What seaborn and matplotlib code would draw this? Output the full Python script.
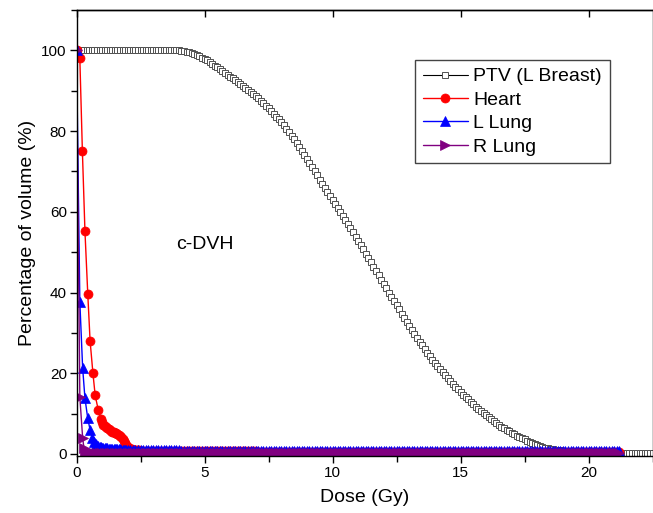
import numpy as np
import matplotlib
matplotlib.use("Agg")
import matplotlib.pyplot as plt
import seaborn as sns
from matplotlib.ticker import MultipleLocator

# ---------------- data ----------------
# PTV (L Breast): 0.1 Gy grid from 0 to 22.5 Gy
ptv_dose = np.arange(0, 226) / 10.0
ptv_vol = ([100.0] * 41 + [
    99.9, 99.8, 99.7, 99.5, 99.3, 99.1, 98.8, 98.5, 98.2, 97.9,
    97.5, 97.1, 96.7, 96.2, 95.8, 95.3, 94.9, 94.4, 94.0, 93.5,
    93.1, 92.6, 92.2, 91.7, 91.2, 90.7, 90.2, 89.7, 89.2, 88.7,
    88.1, 87.5, 86.9, 86.3, 85.7, 85.0, 84.3, 83.6, 82.9, 82.2,
    81.4, 80.6, 79.7, 78.9, 78.0, 77.0, 76.0, 75.0, 74.0, 73.0,
    72.0, 71.0, 70.0, 69.0, 68.0, 67.0, 66.0, 65.0, 64.0, 63.0,
    62.0, 61.0, 60.0, 59.0, 58.0, 57.0, 55.9, 54.9, 53.8, 52.8,
    51.7, 50.7, 49.6, 48.6, 47.5, 46.4, 45.4, 44.3, 43.2, 42.2,
    41.1, 40.0, 39.0, 37.9, 36.9, 35.8, 34.8, 33.7, 32.7, 31.7,
    30.7, 29.7, 28.8, 27.8, 26.9, 26.0, 25.1, 24.2, 23.4, 22.6,
    21.8, 21.0, 20.2, 19.5, 18.8, 18.1, 17.4, 16.7, 16.0, 15.4,
    14.7, 14.1, 13.5, 12.9, 12.3, 11.7, 11.2, 10.6, 10.1, 9.6,
    9.1, 8.6, 8.1, 7.7, 7.2, 6.8, 6.4, 6.0, 5.6, 5.2,
    4.9, 4.5, 4.2, 3.9, 3.6, 3.3, 3.0, 2.7, 2.5, 2.2,
    2.0, 1.8, 1.6, 1.4, 1.3, 1.2, 1.0, 0.9, 0.9, 0.8,
    0.7, 0.7, 0.6, 0.6, 0.5, 0.5, 0.5, 0.4, 0.4, 0.4,
] + [0.3] * 25)

# Heart
heart_dose = np.concatenate([
    [0.0, 0.13, 0.23, 0.33, 0.44, 0.53, 0.64, 0.73, 0.85],
    np.arange(95, 251, 5) / 100.0,
    np.arange(26, 213) / 10.0,
])
heart_vol = ([100.0, 98.0, 75.0, 55.2, 39.7, 28.1, 20.1, 14.5, 10.9] + [
    8.6, 7.8, 7.3, 7.0, 6.7, 6.4, 6.1, 5.9, 5.7, 5.5, 5.4, 5.2, 5.1, 4.9,
    4.7, 4.4, 4.1, 3.7, 3.2, 2.7, 2.2, 1.8, 1.5, 1.3, 1.2, 1.1, 1.0, 1.0,
    0.9, 0.9, 0.9, 0.85,
] + [0.8] * 15 + [0.7] * 30 + [0.6] * 50 + [0.5] * 92)

# L Lung
llung_dose = np.concatenate([
    [0.0, 0.13, 0.24, 0.33, 0.44, 0.53, 0.62],
    np.arange(70, 201, 5) / 100.0,
    np.arange(21, 213) / 10.0,
])
llung_vol = ([100.0, 37.7, 21.3, 13.8, 8.8, 6.0, 4.0] + [
    2.9, 2.4, 2.1, 1.9, 1.8, 1.7, 1.6, 1.55, 1.5, 1.45, 1.4, 1.35, 1.3,
    1.28, 1.25, 1.22, 1.2, 1.18, 1.16, 1.14, 1.12, 1.1, 1.08, 1.06, 1.04,
    1.02, 1.0,
] + [0.9] * 20 + [0.8] * 50 + [0.7] * 122)

# R Lung
rlung_dose = np.concatenate([
    [0.0, 0.13, 0.24, 0.29, 0.34, 0.39],
    np.arange(5, 213) / 10.0,
])
rlung_vol = [100.0, 14.1, 4.0, 1.5, 0.8, 0.5] + [0.3] * 30 + [0.2] * 178

x_major = [0, 5, 10, 15, 20]
y_major = [0, 20, 40, 60, 80, 100]

# ---------------- styling ----------------
sns.set_theme(style="ticks")
plt.rcParams['font.family'] = ['Liberation Sans', 'DejaVu Sans']
plt.rcParams['axes.edgecolor'] = 'black'
plt.rcParams['axes.linewidth'] = 1.0
plt.rcParams['text.color'] = 'black'
plt.rcParams['axes.labelcolor'] = 'black'
plt.rcParams['xtick.color'] = 'black'
plt.rcParams['ytick.color'] = 'black'

fig = plt.figure(figsize=(6.53, 5.13), dpi=100)
ax = fig.add_axes([76.5 / 653, 1 - 456 / 513, 576 / 653, 446 / 513])

common = dict(ax=ax, estimator=None, sort=False)
sns.lineplot(x=ptv_dose, y=ptv_vol, color='black', linewidth=0.8,
             marker='s', markersize=4.8, markerfacecolor='white',
             markeredgecolor='#505050', markeredgewidth=0.7,
             label='PTV (L Breast)', **common)
sns.lineplot(x=heart_dose, y=heart_vol, color='#ff0000', linewidth=1.0,
             marker='o', markersize=6.5, markerfacecolor='#ff0000',
             markeredgecolor='#ff0000', markeredgewidth=0.5,
             label='Heart', **common)
sns.lineplot(x=llung_dose, y=llung_vol, color='#0000ff', linewidth=1.0,
             marker='^', markersize=6.5, markerfacecolor='#0000ff',
             markeredgecolor='#0000ff', markeredgewidth=0.5,
             label='L Lung', **common)
sns.lineplot(x=rlung_dose, y=rlung_vol, color='#800080', linewidth=1.0,
             marker='>', markersize=6.5, markerfacecolor='#800080',
             markeredgecolor='#800080', markeredgewidth=0.5,
             label='R Lung', **common)

ax.set_xlim(0, 22.5)
ax.set_ylim(-0.5, 110)
ax.set_xticks(x_major)
ax.set_yticks(y_major)
ax.xaxis.set_minor_locator(MultipleLocator(2.5))
ax.yaxis.set_minor_locator(MultipleLocator(10))
ax.tick_params(which='major', direction='out', length=5, width=1,
               colors='black', labelsize=11, pad=2)
ax.tick_params(which='minor', direction='out', length=4, width=1,
               colors='black')
for s in ax.spines.values():
    s.set_visible(True)
    s.set_color('black')
    s.set_linewidth(1.0)

sec = ax.secondary_xaxis('top')
sec.set_xticks(x_major)
sec.tick_params(direction='in', length=5, width=1, labeltop=False,
                colors='black')

ax.set_xlabel('Dose (Gy)', fontsize=14, labelpad=7)
ax.set_ylabel('Percentage of volume (%)', fontsize=14, labelpad=4)

ax.text(5.0, 51.8, 'c-DVH', ha='center', va='center', fontsize=14)

leg = ax.legend(loc='upper right', bbox_to_anchor=(0.926, 0.888),
                borderaxespad=0, fontsize=14, frameon=True, fancybox=False,
                edgecolor='#444444', framealpha=1, handlelength=2.3,
                handletextpad=0.3, labelspacing=0.3, borderpad=0.4,
                numpoints=1)
leg.get_frame().set_linewidth(1.0)

fig.savefig('out.png', dpi=100)
